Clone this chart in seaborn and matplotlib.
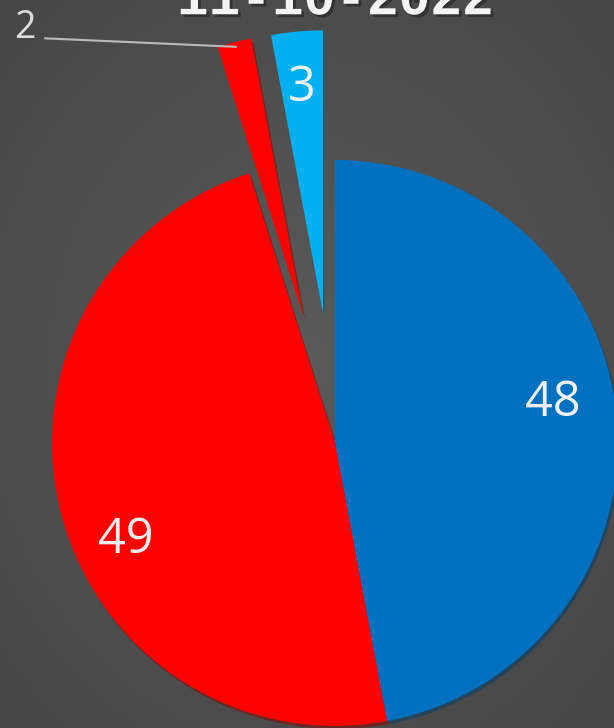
import numpy as np
import seaborn as sns
import matplotlib.pyplot as plt
import matplotlib.patheffects as pe

# データ
title = "11-10-2022"
values = [48, 49, 2, 3]
colors = ["#0070C0", "#FF0000", "#FF0000", "#00B0F0"]
explode = [0, 0, 0.46, 0.46]

# ラベル位置 (半径=1 の座標)
label_pos = [(0.77, 0.14), (-0.74, -0.345), (-1.095, 1.465), None]

sns.set_style("dark")
plt.rcParams["font.family"] = ["Open Sans", "DejaVu Sans"]

fig = plt.figure(figsize=(6.14, 7.28), dpi=100)

# 背景グラデーション
bg = fig.add_axes([0, 0, 1, 1])
yy, xx = np.mgrid[-1:1:300j, -1:1:260j]
rr = np.sqrt(xx ** 2 + yy ** 2) / np.sqrt(2)
c0, c1 = 0x5a / 255, 0x46 / 255
grad = c0 + (c1 - c0) * rr
bg.imshow(np.dstack([grad, grad, grad]), aspect="auto", extent=[0, 1, 0, 1])
bg.set_axis_off()

ax = fig.add_axes([0, 0, 1, 1])
ax.set_facecolor("none")

wedges, texts, autotexts = ax.pie(
    values,
    colors=colors,
    explode=explode,
    startangle=90,
    counterclock=False,
    radius=1,
    autopct=lambda p: f"{round(p * sum(values) / 100)}",
    pctdistance=0.8,
    shadow={"ox": 0.005, "oy": -0.008, "shade": 0.45},
    wedgeprops={"linewidth": 0},
    textprops={"color": "#f0f0f0", "fontsize": 35},
)

for t, pos in zip(autotexts, label_pos):
    if pos is not None:
        t.set_position(pos)
autotexts[2].set_fontsize(27)
autotexts[2].set_color("#dddddd")

# 引出線
ax.plot([-1.025, -0.35], [1.43, 1.40], color="#bbbbbb", lw=1.5)

ax.text(0.0, 1.515, title, ha="center", va="baseline", fontsize=38,
        fontweight="bold", color="#f4f4f4", family=["Liberation Mono", "DejaVu Sans"],
        path_effects=[pe.withSimplePatchShadow(offset=(2, -2), shadow_rgbFace="#222222", alpha=0.6)])

ax.set_xlim(-1.184, 0.986)
ax.set_ylim(-1.007, 1.565)
ax.set_aspect("equal")
ax.set_axis_off()

plt.savefig("out.png", dpi=100)
